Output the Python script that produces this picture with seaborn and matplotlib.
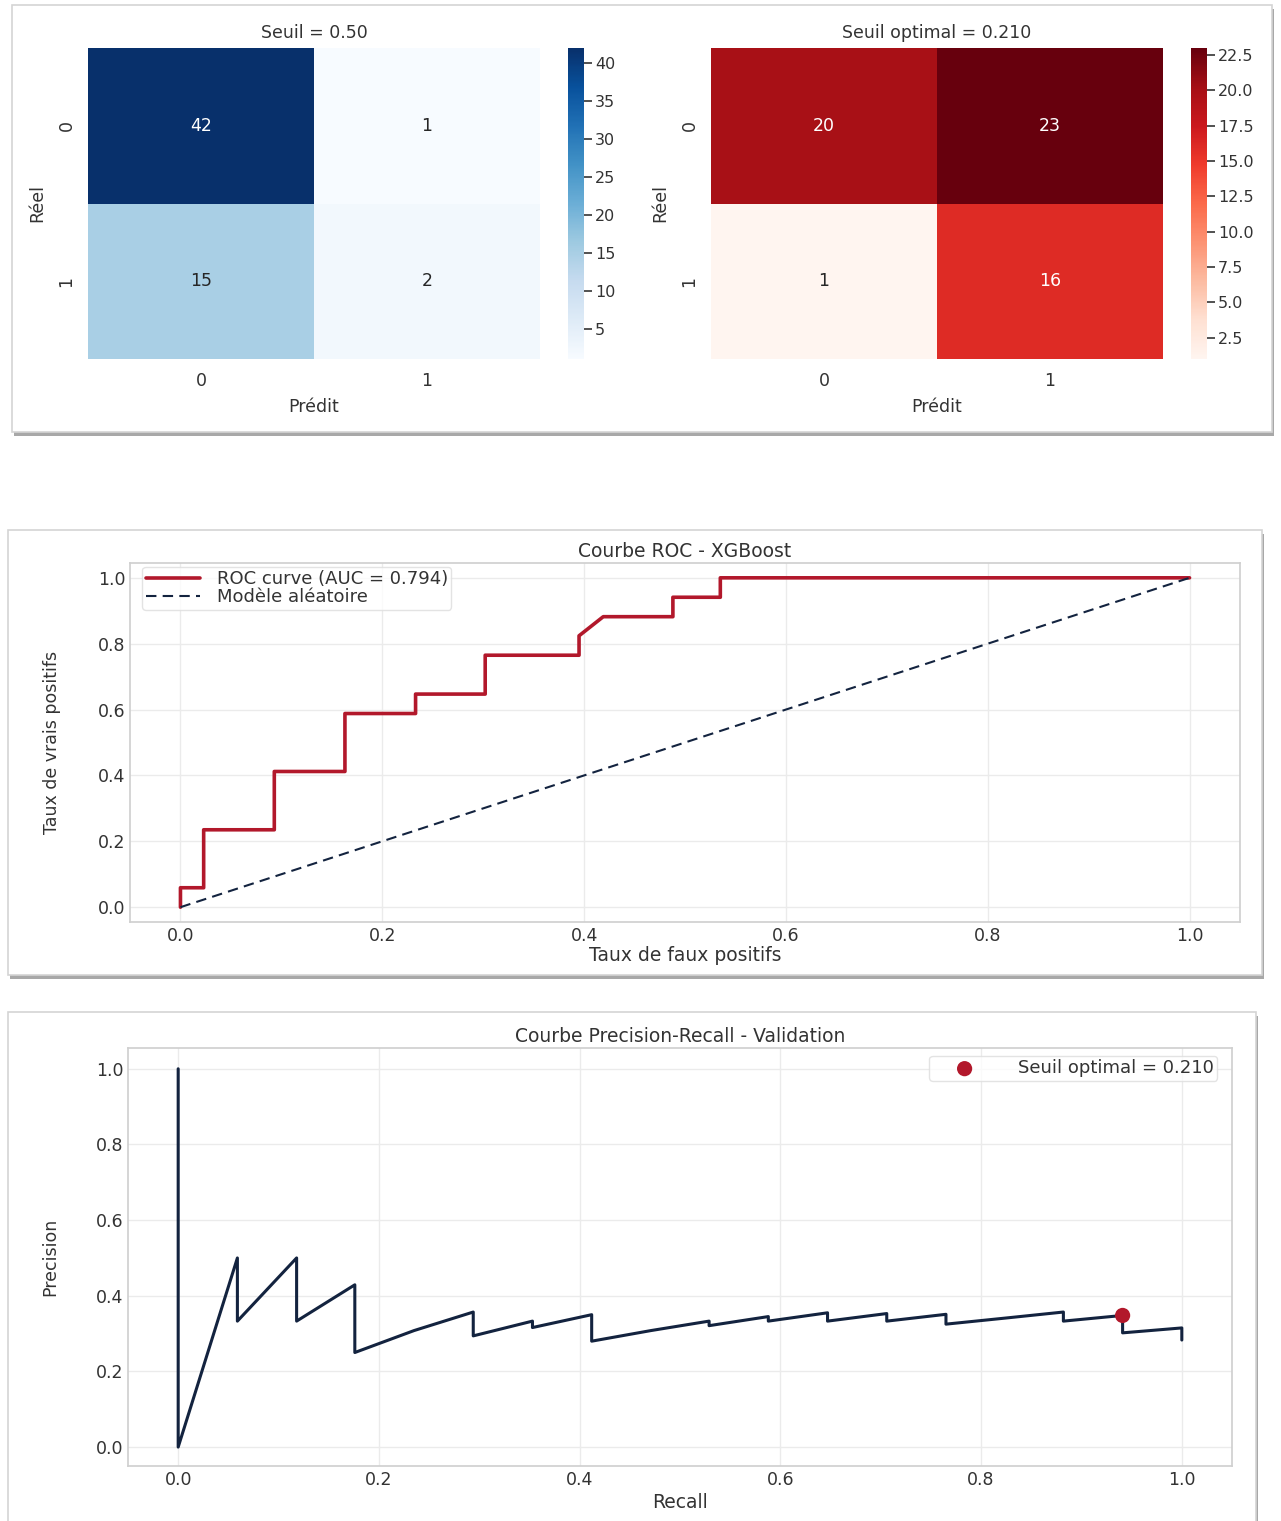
import numpy as np
import pandas as pd
import matplotlib
matplotlib.use("Agg")
import matplotlib.pyplot as plt
from matplotlib.patches import Rectangle
import seaborn as sns

# confusion matrices (rows = réel, cols = prédit)
class_labels = ["0", "1"]
cm_default = [[42, 1], [15, 2]]
cm_optimal = [[20, 23], [1, 16]]
seuil_default = 0.50
seuil_optimal = 0.210

# ROC curve points
roc_fpr = [0.0, 0.0, 0.023, 0.023, 0.093, 0.093, 0.163, 0.163, 0.233, 0.233,
           0.302, 0.302, 0.395, 0.395, 0.419, 0.488, 0.488, 0.535, 0.535, 1.0]
roc_tpr = [0.0, 0.059, 0.059, 0.235, 0.235, 0.412, 0.412, 0.588, 0.588, 0.647,
           0.647, 0.765, 0.765, 0.824, 0.882, 0.882, 0.941, 0.941, 1.0, 1.0]
roc_auc = 0.794
random_line = [0.0, 1.0]

# precision-recall curve points
pr_recall = [0.0, 0.0, 0.059, 0.059, 0.118, 0.118, 0.176, 0.176, 0.235, 0.294,
             0.294, 0.353, 0.353, 0.412, 0.412, 0.471, 0.529, 0.529, 0.588, 0.588,
             0.647, 0.647, 0.706, 0.706, 0.765, 0.765, 0.824, 0.882, 0.882, 0.941,
             0.941, 1.0, 1.0]
pr_precision = [1.0, 0.0, 0.5, 0.333, 0.5, 0.333, 0.429, 0.25, 0.308, 0.357,
                0.294, 0.333, 0.316, 0.35, 0.28, 0.308, 0.333, 0.321, 0.345, 0.333,
                0.355, 0.333, 0.353, 0.333, 0.351, 0.325, 0.341, 0.357, 0.333, 0.348,
                0.302, 0.315, 0.283]
opt_recall = [0.941]
opt_precision = [0.348]

RED = "#b2182b"
NAVY = "#13233f"

sns.set_theme(style="whitegrid")
plt.rcParams["font.family"] = ["DejaVu Sans"]
plt.rcParams["text.color"] = "#333333"
plt.rcParams["axes.labelcolor"] = "#333333"
plt.rcParams["xtick.color"] = "#333333"
plt.rcParams["ytick.color"] = "#333333"

W, H = 1281, 1521
fig = plt.figure(figsize=(W / 100, H / 100), dpi=100)
fig.patch.set_facecolor("white")


def box(x0, y0, x1, y1):
    return [x0 / W, 1 - y1 / H, (x1 - x0) / W, (y1 - y0) / H]


def panel(x0, y0, x1, y1):
    # screenshot frame with a soft shadow
    fig.patches.append(Rectangle((x0 / W + 2 / W, 1 - (y1 + 4) / H), (x1 - x0) / W,
                                 (y1 - y0) / H, transform=fig.transFigure,
                                 facecolor="#a8a8a8", edgecolor="none", zorder=-3))
    fig.patches.append(Rectangle((x0 / W, 1 - y1 / H), (x1 - x0) / W, (y1 - y0) / H,
                                 transform=fig.transFigure, facecolor="white",
                                 edgecolor="#d4d4d4", linewidth=1.2, zorder=-2))


panel(12, 5, 1272, 432)
panel(8, 530, 1262, 975)
panel(8, 1012, 1256, 1530)

# --- confusion matrices ---
def draw_cm(cm, cmap, title, ax_box, cbar_box):
    ax = fig.add_axes(box(*ax_box))
    cax = fig.add_axes(box(*cbar_box))
    df = pd.DataFrame(cm, index=class_labels, columns=class_labels)
    sns.heatmap(df, annot=True, fmt="d", cmap=cmap, ax=ax, cbar_ax=cax,
                annot_kws={"fontsize": 12.5})
    ax.set_title(title, fontsize=12.5, pad=7)
    ax.set_xlabel("Prédit", fontsize=12.5, labelpad=6)
    ax.set_ylabel("Réel", fontsize=12.5, labelpad=8)
    ax.tick_params(axis="both", length=0, labelsize=12.5, pad=9)
    ax.set_yticklabels(class_labels, rotation=90, va="center")
    cax.tick_params(axis="y", length=6, width=1.2, color="#333333", labelsize=11.5, pad=2)
    return ax


draw_cm(cm_default, "Blues", f"Seuil = {seuil_default:.2f}",
        (88, 48, 540, 359), (568, 48, 584, 359))
draw_cm(cm_optimal, "Reds", f"Seuil optimal = {seuil_optimal:.3f}",
        (711, 48, 1163, 359), (1191, 48, 1207, 359))

# --- ROC curve ---
ax_roc = fig.add_axes(box(130, 563, 1240, 922))
roc_df = pd.DataFrame({"fpr": roc_fpr, "tpr": roc_tpr})
sns.lineplot(data=roc_df, x="fpr", y="tpr", sort=False, estimator=None, color=RED,
             linewidth=2.6, ax=ax_roc, label=f"ROC curve (AUC = {roc_auc:.3f})")
sns.lineplot(x=random_line, y=random_line, color=NAVY, linewidth=1.5,
             dashes=False, ax=ax_roc, label="Modèle aléatoire")
ax_roc.lines[-1].set_dashes((5, 3))
ax_roc.set_xlim(-0.05, 1.05)
ax_roc.set_ylim(-0.045, 1.045)
ax_roc.set_xticks(np.arange(0, 1.01, 0.2))
ax_roc.set_yticks(np.arange(0, 1.01, 0.2))
ax_roc.tick_params(labelsize=12.5, length=0)
ax_roc.set_title("Courbe ROC - XGBoost", fontsize=13.5, pad=4)
ax_roc.set_xlabel("Taux de faux positifs", fontsize=13.5, labelpad=1)
ax_roc.set_ylabel("Taux de vrais positifs", fontsize=12.5, labelpad=26)
ax_roc.grid(color="#ebebeb", linewidth=1)
for s in ax_roc.spines.values():
    s.set_color("#d0d0d0")
leg = ax_roc.legend(loc="upper left", fontsize=13, frameon=True, borderpad=0.2,
                    labelspacing=0.0, handlelength=3.0, handletextpad=0.9,
                    borderaxespad=0.2, bbox_to_anchor=(0.008, 1.0))
leg.get_frame().set_edgecolor("#dddddd")

# --- Precision-Recall curve ---
ax_pr = fig.add_axes(box(128, 1048, 1232, 1466))
pr_df = pd.DataFrame({"recall": pr_recall, "precision": pr_precision})
sns.lineplot(data=pr_df, x="recall", y="precision", sort=False, estimator=None,
             color=NAVY, linewidth=2.2, ax=ax_pr)
sns.scatterplot(x=opt_recall, y=opt_precision, color=RED, s=120, edgecolor="none",
                ax=ax_pr, label=f"Seuil optimal = {seuil_optimal:.3f}", zorder=5)
ax_pr.set_xlim(-0.05, 1.05)
ax_pr.set_ylim(-0.05, 1.055)
ax_pr.set_xticks(np.arange(0, 1.01, 0.2))
ax_pr.set_yticks(np.arange(0, 1.01, 0.2))
ax_pr.tick_params(labelsize=12.5, length=0)
ax_pr.set_title("Courbe Precision-Recall - Validation", fontsize=13.5, pad=4)
ax_pr.set_xlabel("Recall", fontsize=13.5, labelpad=3)
ax_pr.set_ylabel("Precision", fontsize=12.5, labelpad=26)
ax_pr.grid(color="#ebebeb", linewidth=1)
for s in ax_pr.spines.values():
    s.set_color("#d0d0d0")
leg2 = ax_pr.legend(loc="upper right", fontsize=13, frameon=True, borderpad=0.2,
                    handlelength=3.5, handletextpad=1.2, borderaxespad=0.2,
                    bbox_to_anchor=(0.99, 0.99))
leg2.get_frame().set_edgecolor("#dddddd")

fig.savefig("out.png", dpi=100, facecolor="white")
